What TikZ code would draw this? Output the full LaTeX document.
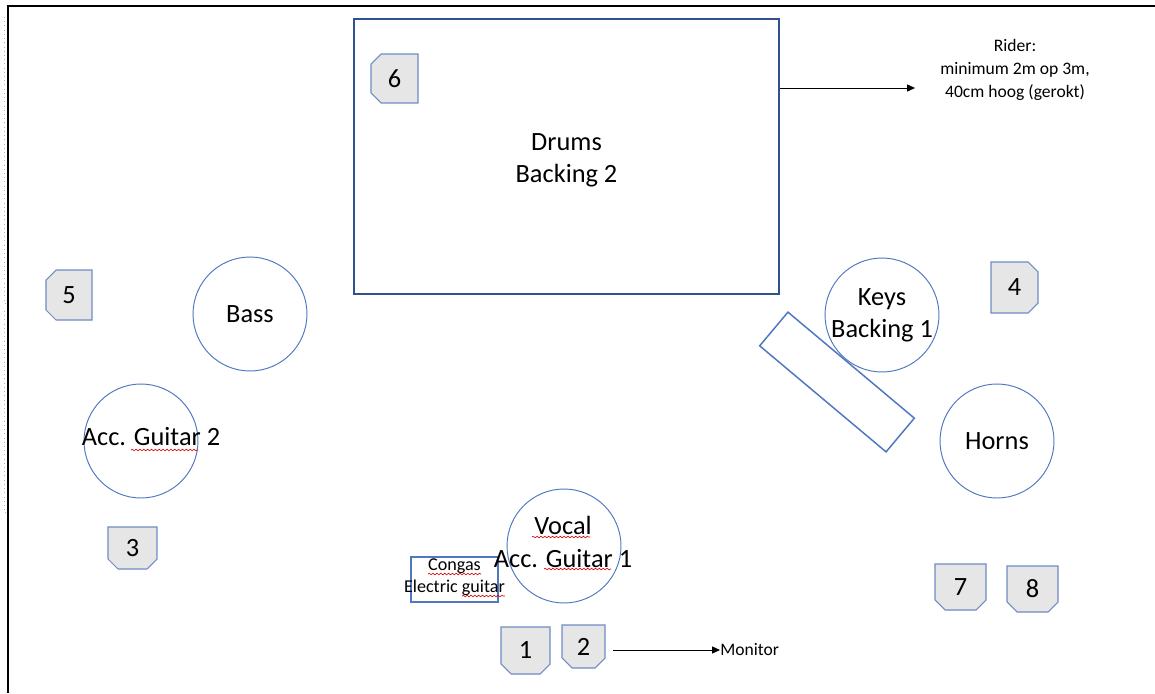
\documentclass[tikz,border=0pt]{standalone}
\usepackage{fontspec}
\setmainfont{Carlito}
\usetikzlibrary{arrows.meta,shapes.misc,decorations.pathmorphing}
\definecolor{lineblue}{RGB}{80,120,192}
\definecolor{darkblue}{RGB}{47,82,143}
\definecolor{boxblue}{RGB}{110,138,196}
\definecolor{boxgray}{RGB}{231,230,230}
\tikzset{
  mon/.style={chamfered rectangle, draw=boxblue, fill=boxgray, line width=0.6pt,
    minimum width=0.96cm, minimum height=0.96cm, inner sep=0pt,
    chamfered rectangle xsep=0.1cm, chamfered rectangle ysep=0.1cm,
    font=\fontsize{15}{18}\selectfont},
  player/.style={circle, draw=lineblue, line width=0.55pt, minimum size=2.28cm, inner sep=0pt},
  big/.style={font=\fontsize{15}{18.3}\selectfont, align=center},
  small/.style={font=\fontsize{10}{13}\selectfont, align=center},
  tiny/.style={font=\fontsize{10.3}{12.5}\selectfont, align=center, inner sep=0pt},
  squiggle/.style={red!85!black, line width=0.35pt, decorate,
    decoration={snake, amplitude=0.45pt, segment length=2.2pt}},
  arr/.style={-{Triangle[length=4.5pt,width=4pt]}, line width=0.5pt},
}
\begin{document}
\begin{tikzpicture}[x=0.02cm, y=-0.02cm]
  \useasboundingbox (0,0) rectangle (1155,693);
  % page edge
  \draw[line width=0.8pt] (1155,6) -- (8,6) -- (8,693);
  \draw[gray!60, dotted] (4,17) -- (4,303) -- (8,303);
  \draw[gray!60, dotted] (4,311) -- (4,512) -- (8,512);

  % drums and rider
  \node[draw=darkblue, line width=1.1pt, minimum width=8.5cm, minimum height=5.5cm] (drums) at (566.5,156.5) {};
  \node[big] (drumst) at (566.5,160) {Drums\\Backing 2};
  \node[mon, chamfered rectangle corners={north west,south west}, minimum width=0.94cm, minimum height=0.98cm] (m6) at (394.5,78.5) {6};
  \node[small] (rider) at (1015,70) {Rider:\\minimum 2m op 3m,\\40cm hoog (gerokt)};
  \coordinate (riderin) at (915,88);
  \draw[arr] (drums.east |- riderin) -- (riderin);

  % left side
  \node[player] (bass) at (250,314) {};
  \node[big] (basst) at (bass) {Bass};
  \node[mon, chamfered rectangle corners={north west,south west}, minimum width=0.92cm, minimum height=1cm] (m5) at (69,295) {5};
  \node[player] (ag2) at (141,441) {};
  \node[big] (ag2t) at (151,437) {Acc. Guitar 2};
  \node[mon, chamfered rectangle corners={south west,south east}, minimum width=0.98cm, minimum height=0.84cm] (m3) at (132.5,548) {3};

  % right side
  \node[player] (keys) at (882,315) {};
  \node[big] (keyst) at (882,315.5) {Keys\\Backing 1};
  \node[draw=lineblue, line width=0.85pt, rotate=-40, minimum width=3.3cm, minimum height=0.88cm] (keyboard) at (837,382) {};
  \node[mon, chamfered rectangle corners={north east,south east}, minimum width=0.94cm, minimum height=1.02cm] (m4) at (1014.5,287.5) {4};
  \node[player] (horns) at (997,441) {};
  \node[big] (hornst) at (horns) {Horns};
  \node[mon, chamfered rectangle corners={south west,south east}, minimum width=1.02cm, minimum height=0.92cm] (m7) at (960.5,587) {7};
  \node[mon, chamfered rectangle corners={south west,south east}, minimum width=1.02cm, minimum height=0.92cm] (m8) at (1032.5,589) {8};

  % front
  \node[player] (vocal) at (564,546) {};
  \node[draw=lineblue, line width=0.6pt, minimum width=1.74cm, minimum height=0.9cm, inner sep=0pt] (congas) at (454.5,579.5) {};
  \node[tiny] (congast) at (454.5,577) {Congas\\Electric guitar};
  \node[big] (vocalt) at (563,542) {Vocal\\Acc. Guitar 1};
  \node[mon, chamfered rectangle corners={south west,south east}, minimum width=0.98cm, minimum height=0.94cm] (m1) at (525.5,650.5) {1};
  \node[mon, chamfered rectangle corners={south west,south east}, minimum width=0.86cm, minimum height=0.86cm] (m2) at (583.5,646.5) {2};
  \node[small, anchor=west, inner sep=0pt] (monitor) at (720,650) {Monitor};
  \coordinate (monout) at (613,650);
  \draw[arr] (monout) -- (monitor.west);

  % spelling marks
  \draw[squiggle] (131,450) -- (198,450);
  \draw[squiggle] (532,537) -- (590,537);
  \draw[squiggle] (544,569) -- (611,569);
  \draw[squiggle] (428,574) -- (481,574);
  \draw[squiggle] (462,596) -- (505,596);
\end{tikzpicture}
\end{document}
